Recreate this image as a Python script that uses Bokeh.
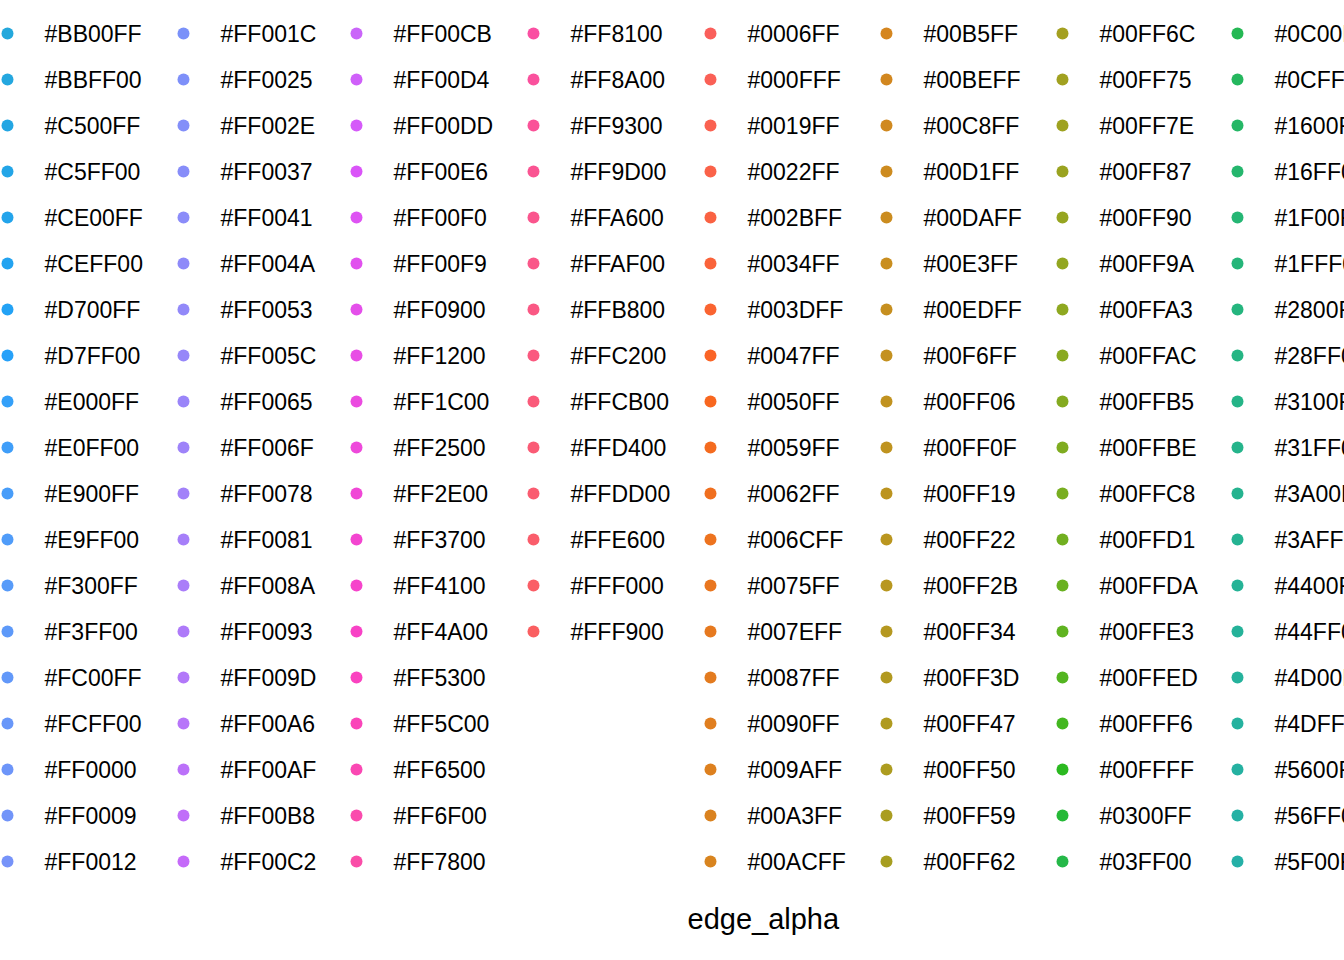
import math
from bokeh.plotting import figure
from bokeh.models import Range1d, ColumnDataSource
from bokeh.core.properties import value
from bokeh.embed import file_html
from bokeh.resources import INLINE

# ---- data: legend labels, in the column order seen in the picture ----
col1 = ["#BB00FF", "#BBFF00", "#C500FF", "#C5FF00", "#CE00FF", "#CEFF00", "#D700FF",
        "#D7FF00", "#E000FF", "#E0FF00", "#E900FF", "#E9FF00", "#F300FF", "#F3FF00",
        "#FC00FF", "#FCFF00", "#FF0000", "#FF0009", "#FF0012"]
col2 = ["#FF001C", "#FF0025", "#FF002E", "#FF0037", "#FF0041", "#FF004A", "#FF0053",
        "#FF005C", "#FF0065", "#FF006F", "#FF0078", "#FF0081", "#FF008A", "#FF0093",
        "#FF009D", "#FF00A6", "#FF00AF", "#FF00B8", "#FF00C2"]
col3 = ["#FF00CB", "#FF00D4", "#FF00DD", "#FF00E6", "#FF00F0", "#FF00F9", "#FF0900",
        "#FF1200", "#FF1C00", "#FF2500", "#FF2E00", "#FF3700", "#FF4100", "#FF4A00",
        "#FF5300", "#FF5C00", "#FF6500", "#FF6F00", "#FF7800"]
col4 = ["#FF8100", "#FF8A00", "#FF9300", "#FF9D00", "#FFA600", "#FFAF00", "#FFB800",
        "#FFC200", "#FFCB00", "#FFD400", "#FFDD00", "#FFE600", "#FFF000", "#FFF900"]
col5 = ["#0006FF", "#000FFF", "#0019FF", "#0022FF", "#002BFF", "#0034FF", "#003DFF",
        "#0047FF", "#0050FF", "#0059FF", "#0062FF", "#006CFF", "#0075FF", "#007EFF",
        "#0087FF", "#0090FF", "#009AFF", "#00A3FF", "#00ACFF"]
col6 = ["#00B5FF", "#00BEFF", "#00C8FF", "#00D1FF", "#00DAFF", "#00E3FF", "#00EDFF",
        "#00F6FF", "#00FF06", "#00FF0F", "#00FF19", "#00FF22", "#00FF2B", "#00FF34",
        "#00FF3D", "#00FF47", "#00FF50", "#00FF59", "#00FF62"]
col7 = ["#00FF6C", "#00FF75", "#00FF7E", "#00FF87", "#00FF90", "#00FF9A", "#00FFA3",
        "#00FFAC", "#00FFB5", "#00FFBE", "#00FFC8", "#00FFD1", "#00FFDA", "#00FFE3",
        "#00FFED", "#00FFF6", "#00FFFF", "#0300FF", "#03FF00"]
col8 = ["#0C00FF", "#0CFF00", "#1600FF", "#16FF00", "#1F00FF", "#1FFF00", "#2800FF",
        "#28FF00", "#3100FF", "#31FF00", "#3A00FF", "#3AFF00", "#4400FF", "#44FF00",
        "#4D00FF", "#4DFF00", "#5600FF", "#56FF00", "#5F00FF"]
columns = [col1, col2, col3, col4, col5, col6, col7, col8]
# position (1-based) of each column's first label among all 166 sorted levels
col_first_level = [96, 115, 134, 153, 1, 20, 39, 58]
n_levels = 166
legend_title = "edge_alpha"

# ---- layout / style ----
COL_X = [44, 220, 393, 570, 747, 923, 1099, 1274]
ROW0, ROW_STEP = 33, 46
DOT_OFF = 37
W, H = 1344, 960
PAL_L, PAL_SAT, PAL_CMAX, PAL_H0 = 0.687, 0.94, 0.25, 25.0


def _oklch_lin(L, C, h):
    hr = math.radians(h)
    a, b = C * math.cos(hr), C * math.sin(hr)
    l_ = L + 0.3963377774 * a + 0.2158037573 * b
    m_ = L - 0.1055613458 * a - 0.0638541728 * b
    s_ = L - 0.0894841775 * a - 1.2914855480 * b
    l, m, s = l_ ** 3, m_ ** 3, s_ ** 3
    return [4.0767416621 * l - 3.3077115913 * m + 0.2309699292 * s,
            -1.2684380046 * l + 2.6097574011 * m - 0.3413193965 * s,
            -0.0041960863 * l - 0.7034186147 * m + 1.7076147010 * s]


def _in_gamut(rgb):
    return min(rgb) >= -1e-5 and max(rgb) <= 1 + 1e-5


def oklch_hex(L, sat, cap, h):
    lo, hi = 0.0, 0.45
    for _ in range(40):
        mid = (lo + hi) / 2
        if _in_gamut(_oklch_lin(L, mid, h)):
            lo = mid
        else:
            hi = mid
    rgb = _oklch_lin(L, min(lo * sat, cap), h)
    out = []
    for t in rgb:
        t = min(1.0, max(0.0, t))
        t = 1.055 * t ** (1 / 2.4) - 0.055 if t > 0.0031308 else 12.92 * t
        out.append(int(round(255 * t)))
    return "#%02X%02X%02X" % tuple(out)


xs, ys, dx, labels, colors = [], [], [], [], []
for ci, col in enumerate(columns):
    for ri, lab in enumerate(col):
        level = col_first_level[ci] + ri
        hue = (PAL_H0 + (level - 1) * 360.0 / n_levels) % 360
        xs.append(COL_X[ci])
        dx.append(COL_X[ci] - DOT_OFF)
        ys.append(ROW0 + ROW_STEP * ri)
        labels.append(lab)
        colors.append(oklch_hex(PAL_L, PAL_SAT, PAL_CMAX, hue))

src = ColumnDataSource(dict(x=xs, dx=dx, y=ys, label=labels, color=colors))

p = figure(width=W, height=H, x_range=Range1d(0, W), y_range=Range1d(H, 0),
           output_backend="svg", toolbar_location=None, min_border=0)
p.axis.visible = False
p.grid.visible = False
p.outline_line_color = None
p.background_fill_color = "white"
p.border_fill_color = "white"

p.scatter("dx", "y", source=src, size=12, color="color", line_color=None)
p.text("x", "y", text="label", source=src, text_baseline="middle", text_align="left",
       text_font=value("Liberation Sans"), text_font_size="23px", text_color="black")
p.text(x=[687], y=[918], text=[legend_title], text_baseline="middle", text_align="left",
       text_font=value("Liberation Sans"), text_font_size="29px", text_color="black")

open("out.html", "w").write(file_html(p, INLINE))
